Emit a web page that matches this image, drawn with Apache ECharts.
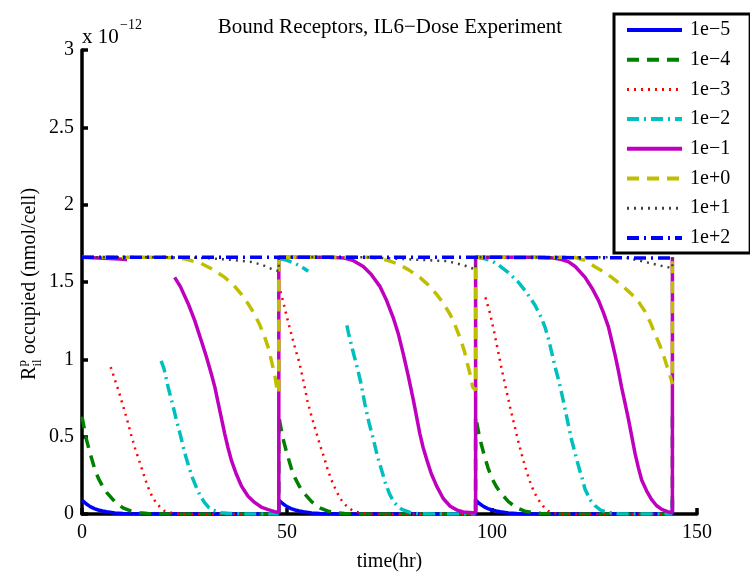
<!DOCTYPE html>
<html>
<head>
<meta charset="utf-8">
<script src="https://cdn.jsdelivr.net/npm/echarts@6/dist/echarts.min.js"></script>
<style>html,body{margin:0;padding:0;background:#fff}#c{width:750px;height:577px}</style>
</head>
<body>
<div id="c"></div>
<script>
// values in units of 1e-12 nmol/cell, time in hours
const doseLabels = ['1e\u22125','1e\u22124','1e\u22123','1e\u22122','1e\u22121','1e+0','1e+1','1e+2'];
const xTicks = [0, 50, 100, 150];
const yTicks = [0, 0.5, 1, 1.5, 2, 2.5, 3];

const dose1e_5 = [
 [0,0.09],[1,0.066],[2,0.048],[3,0.035],[4,0.026],[5,0.019],[6,0.014],[8,0.007],[10,0.004],[14,0.001],[20,0],[48,0],
 [48,0.09],[49,0.066],[50,0.048],[51,0.035],[52,0.026],[53,0.019],[54,0.014],[56,0.007],[58,0.004],[62,0.001],[68,0],[96,0],
 [96,0.09],[97,0.066],[98,0.048],[99,0.035],[100,0.026],[101,0.019],[102,0.014],[104,0.007],[106,0.004],[110,0.001],[116,0],[144,0],[144,0.09]
];
const dose1e_4 = [
 [0,0.63],[1,0.49],[2,0.39],[3,0.30],[4,0.23],[5,0.18],[6,0.14],[8,0.08],[10,0.04],[12,0.018],[14,0.008],[16,0.003],[20,0],[48,0],
 [48,0.63],[49,0.49],[50,0.39],[51,0.30],[52,0.23],[53,0.18],[54,0.14],[56,0.08],[58,0.04],[60,0.018],[62,0.008],[64,0.003],[68,0],[96,0],
 [96,0.63],[97,0.49],[98,0.39],[99,0.30],[100,0.23],[101,0.18],[102,0.14],[104,0.08],[106,0.04],[108,0.018],[110,0.008],[112,0.003],[116,0],[144,0],[144,0.63]
];
const dose1e_3 = [
 [7,0.95],[8,0.87],[9,0.79],[10,0.70],[11,0.61],[12,0.51],[13,0.42],[14,0.34],[15,0.26],[16,0.18],[17,0.12],[18,0.075],[19,0.045],[20,0.022],[22,0.006],[24,0.001],[30,0],[48,0],[48,null],
 [48.4,1.44],[49,1.38],[50,1.27],[51,1.17],[52,1.07],[53,0.98],[54,0.86],[55,0.73],[56,0.63],[57,0.54],[58,0.45],[59,0.37],[60,0.28],[61,0.21],[62,0.15],[63,0.10],[64,0.065],[65,0.04],[66,0.022],[68,0.005],[72,0],[96,0],[96,null],
 [98.4,1.40],[99.5,1.30],[100.5,1.18],[101.5,1.05],[102.5,0.92],[103.5,0.80],[104.5,0.68],[105.5,0.57],[106.5,0.46],[107.5,0.36],[108.5,0.27],[109.5,0.19],[110.5,0.13],[111.5,0.085],[112.5,0.05],[113.7,0.02],[115.5,0.004],[120,0],[144,0]
];
const dose1e_2 = [
 [19.3,0.99],[20,0.94],[21,0.82],[22,0.72],[23,0.61],[24,0.51],[25,0.40],[26,0.31],[27,0.23],[28,0.165],[29,0.11],[30,0.07],[31,0.04],[32,0.024],[34,0.008],[36,0.003],[40,0],[48,0],[48,null],
 [48.3,1.65],[50,1.64],[52,1.62],[54,1.59],[55.2,1.57],[55.2,null],
 [64.6,1.22],[65,1.17],[66,1.06],[67,0.96],[68,0.85],[69,0.71],[70,0.59],[71,0.49],[72,0.38],[73,0.29],[74,0.20],[75,0.13],[76,0.08],[77,0.05],[78,0.03],[80,0.01],[82,0.002],[86,0],[96,0],[96,null],
 [96.3,1.66],[98.3,1.65],[100,1.635],[101.6,1.61],[104,1.56],[106.4,1.50],[108.5,1.43],[110.5,1.35],[112,1.27],[112.9,1.21],[113.8,1.13],[114.6,1.04],[115.4,0.95],[116.2,0.87],[117,0.78],[117.8,0.68],[118.6,0.58],[119.4,0.48],[120.3,0.39],[121.1,0.31],[122,0.23],[122.7,0.16],[124,0.09],[125.1,0.054],[126.5,0.025],[128.4,0.01],[131,0.002],[134,0],[144,0]
];
const dose1e_1 = [
 [0,1.66],[4,1.655],[8,1.65],[11,1.645],[11,null],
 [22.6,1.53],[24,1.47],[25.9,1.36],[27.5,1.25],[29.1,1.12],[30.3,1.02],[31.5,0.91],[32.4,0.82],[33.2,0.72],[34,0.62],[34.8,0.52],[35.6,0.43],[36.4,0.35],[37.6,0.26],[38.9,0.18],[40.5,0.115],[42.1,0.075],[43.7,0.045],[45.4,0.028],[47,0.015],[48,0.01],[48,1.66],
 [52,1.66],[56,1.66],[60,1.66],[64,1.655],[66,1.64],[68.6,1.60],[70.5,1.55],[72.7,1.47],[74.3,1.38],[75.9,1.27],[77.2,1.16],[78.4,1.03],[79.6,0.89],[80.8,0.74],[81.6,0.63],[82.4,0.52],[83.2,0.43],[84.1,0.35],[85.2,0.26],[86.5,0.18],[88.1,0.10],[89.8,0.05],[91.5,0.025],[93,0.013],[96,0.006],[96,1.66],
 [100,1.66],[105,1.66],[110,1.66],[115,1.655],[117,1.645],[118.7,1.63],[120.3,1.60],[121.5,1.565],[122.7,1.53],[124.4,1.46],[126,1.38],[127.2,1.30],[128.4,1.21],[129.2,1.12],[130,1.03],[130.8,0.93],[131.6,0.82],[132.5,0.71],[133.3,0.61],[134.1,0.50],[134.9,0.39],[135.7,0.30],[136.5,0.22],[137.7,0.15],[138.9,0.094],[140.1,0.055],[141.4,0.03],[142.8,0.015],[144,0.008],[144,1.66]
];
const dose1e0 = [
 [0,1.66],[10,1.66],[20,1.66],[22.6,1.655],[25,1.65],[27,1.635],[29.1,1.62],[32,1.58],[34.8,1.53],[37,1.48],[38.9,1.42],[40.5,1.36],[42.1,1.29],[43.4,1.22],[44.6,1.14],[45.5,1.07],[46.2,0.99],[47,0.90],[47.6,0.80],[48,0.78],[48,1.66],
 [60,1.66],[70,1.66],[72,1.655],[74.5,1.64],[76.8,1.62],[79.6,1.58],[82.4,1.53],[84.5,1.48],[86.5,1.42],[88.2,1.36],[89.8,1.29],[91,1.22],[92.2,1.14],[93.3,1.05],[94.2,0.95],[94.8,0.89],[95.3,0.82],[96,0.80],[96,1.66],
 [110,1.66],[120,1.66],[122.7,1.64],[125,1.60],[127,1.57],[129.2,1.53],[131.6,1.48],[134.1,1.42],[135.8,1.37],[137.3,1.31],[138.6,1.24],[139.8,1.16],[140.8,1.10],[141.8,1.03],[142.5,0.97],[143,0.93],[143.6,0.88],[144,0.84],[144,1.66]
];
const dose1e1 = [
 [0,1.66],[20,1.66],[30,1.655],[35.6,1.645],[41.3,1.63],[44,1.61],[46.2,1.585],[48,1.57],[48,1.66],
 [70,1.66],[80.8,1.645],[89,1.635],[93,1.61],[96,1.58],[96,1.66],
 [120,1.66],[132.4,1.66],[138.9,1.62],[142,1.60],[144,1.59],[144,1.66]
];
const dose1e2 = [
 [0,1.66],[48,1.66],[96,1.66],[144,1.655]
];

const seriesData = [dose1e_5, dose1e_4, dose1e_3, dose1e_2, dose1e_1, dose1e0, dose1e1, dose1e2];
const colors = ['#0000ff','#008000','#ff0000','#00bfbf','#bf00bf','#bfbf00','#404040','#0000ff'];
const lineTypes = ['solid',[12,8],[2,5],[12,5,2,5],'solid',[12,8],[2,5],[12,5,2,5]];
const widths = [3.5,3.5,2.5,3.5,3.5,3.5,2.5,3.5];

const FONT = '"Liberation Serif", "Times New Roman", serif';
const chart = echarts.init(document.getElementById('c'), null, {renderer:'canvas'});
const plot = {left:82, right:53, top:50, bottom:59};

chart.setOption({
  animation:false,
  backgroundColor:'#fff',
  grid:{left:plot.left, right:plot.right, top:plot.top, bottom:plot.bottom, containLabel:false},
  xAxis:{
    type:'value', min:xTicks[0], max:xTicks[xTicks.length-1], interval:50,
    name:'time(hr)', nameLocation:'middle', nameGap:38,
    nameTextStyle:{fontFamily:FONT, fontSize:20, color:'#000'},
    axisLine:{show:true, onZero:false, lineStyle:{color:'#000', width:3.5}},
    axisTick:{show:true, inside:true, length:6, lineStyle:{color:'#000', width:3.5}},
    axisLabel:{fontFamily:FONT, fontSize:20, color:'#000', margin:9},
    splitLine:{show:false}
  },
  yAxis:{
    type:'value', min:yTicks[0], max:yTicks[yTicks.length-1], interval:0.5,
    axisLine:{show:true, onZero:false, lineStyle:{color:'#000', width:3.5}},
    axisTick:{show:true, inside:true, length:6, lineStyle:{color:'#000', width:3.5}},
    axisLabel:{fontFamily:FONT, fontSize:20, color:'#000', margin:8},
    splitLine:{show:false}
  },
  legend:{
    orient:'vertical', left:614, top:14,
    padding:[6,20,5,11], itemWidth:55, itemHeight:14, itemGap:9.7,
    borderColor:'#000', borderWidth:3, backgroundColor:'#fff',
    textStyle:{fontFamily:FONT, fontSize:20, color:'#000', padding:[0,0,0,3]},
    itemStyle:{color:'rgba(0,0,0,0)', borderColor:'rgba(0,0,0,0)', borderWidth:0},
    data:doseLabels.map((n,i)=>({name:n, lineStyle:{width:widths[i]+0.5, color:colors[i], type:lineTypes[i]}, itemStyle:{color:'rgba(0,0,0,0)', borderWidth:0}})),
    z:10
  },
  graphic:[
    {type:'text', x:390, y:27, style:{text:'Bound Receptors, IL6\u2212Dose Experiment', font:'21px '+FONT, fill:'#000', align:'center', verticalAlign:'middle'}},
    {type:'text', x:82, y:37, style:{text:'x 10', font:'21px '+FONT, fill:'#000', align:'left', verticalAlign:'middle'}},
    {type:'text', x:120, y:25, style:{text:'\u221212', font:'14px '+FONT, fill:'#000', align:'left', verticalAlign:'middle'}},
    {type:'group', x:30, y:380, rotation:Math.PI/2, children:[
      {type:'text', x:0, y:0, style:{text:'R', font:'20px '+FONT, fill:'#000', verticalAlign:'middle'}},
      {type:'text', x:13.5, y:-7, style:{text:'p', font:'13px '+FONT, fill:'#000', verticalAlign:'middle'}},
      {type:'text', x:13.5, y:8, style:{text:'il', font:'13px '+FONT, fill:'#000', verticalAlign:'middle'}},
      {type:'text', x:26, y:0, style:{text:'occupied (nmol/cell)', font:'20px '+FONT, fill:'#000', verticalAlign:'middle'}}
    ]}
  ],
  series: seriesData.map((d,i)=>({
    name:doseLabels[i], type:'line', data:d, symbol:'none', showSymbol:false,
    connectNulls:false, smooth:false,
    lineStyle:{color:colors[i], width:widths[i], type:lineTypes[i], cap:'butt'},
    itemStyle:{color:colors[i]}
  }))
});
</script>
</body>
</html>
